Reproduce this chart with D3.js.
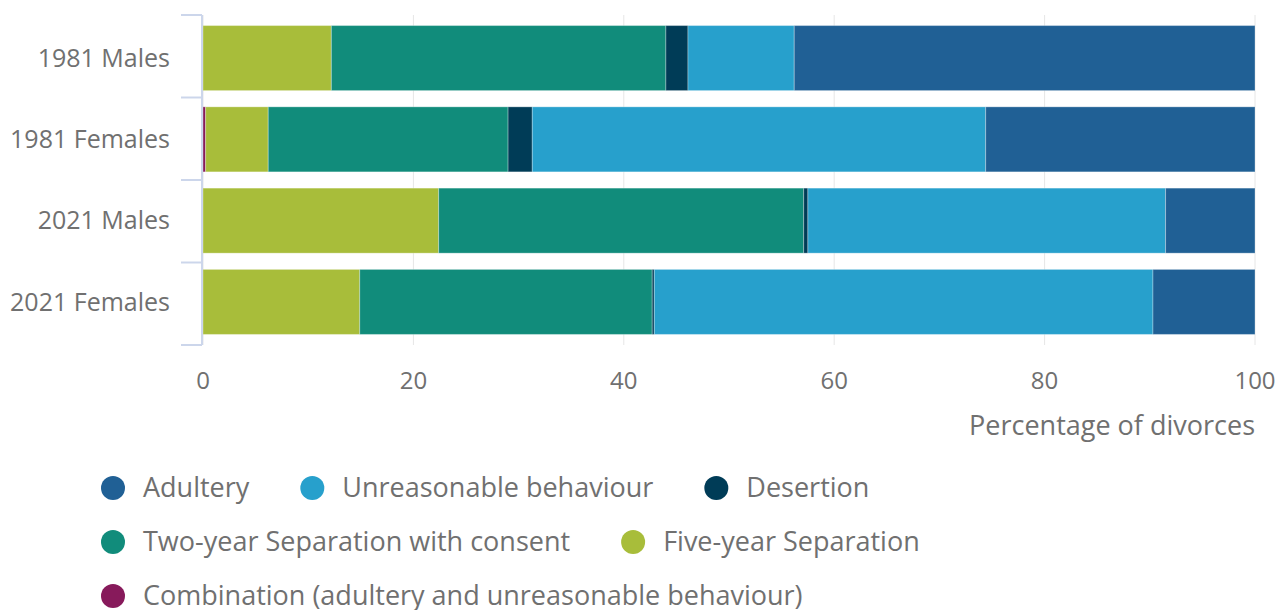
<!DOCTYPE html>
<html>
<head>
<meta charset="utf-8">
<script src="https://cdn.jsdelivr.net/npm/d3@7"></script>
<style>
  body { margin: 0; background: #fff; }
  text { font-family: "Open Sans", sans-serif; fill: #707070; }
</style>
</head>
<body>
<div id="chart"></div>
<script>
// categories and series (percent of divorces)
var categories = ["1981 Males", "1981 Females", "2021 Males", "2021 Females"];
var seriesNames = ["Adultery", "Unreasonable behaviour", "Desertion",
                   "Two-year Separation with consent", "Five-year Separation",
                   "Combination (adultery and unreasonable behaviour)"];
var adultery     = [43.8, 25.6, 8.5, 9.7];
var unreasonable = [10.1, 43.1, 34.0, 47.4];
var desertion    = [2.1, 2.3, 0.4, 0.2];
var twoYear      = [31.8, 22.8, 34.7, 27.8];
var fiveYear     = [12.2, 5.95, 22.4, 14.9];
var combination  = [0, 0.25, 0, 0];
var xTicks = [0, 20, 40, 60, 80, 100];
var colors = ["#206095", "#27a0cc", "#003c57", "#118c7b", "#a8bd3a", "#871a5b"];

var allSeries = [adultery, unreasonable, desertion, twoYear, fiveYear, combination];

var width = 1284, height = 610;
var margin = {top: 15, left: 203, right: 29};
var plotH = 330;

var svg = d3.select("#chart").append("svg")
    .attr("width", width).attr("height", height);

var x = d3.scaleLinear().domain([0, 100]).range([margin.left, width - margin.right]);
var y = d3.scaleBand().domain(categories).range([margin.top, margin.top + plotH])
    .paddingInner(0.2).paddingOuter(0.13);

//Gridlines
svg.append("g").selectAll("line").data(xTicks).enter().append("line")
    .attr("x1", function(d){ return x(d); }).attr("x2", function(d){ return x(d); })
    .attr("y1", margin.top).attr("y2", margin.top + plotH)
    .style("stroke", "#e6e6e6").style("stroke-width", 1);

//Stacked data: left to right is combination, five-year, two-year, desertion, unreasonable, adultery
var rows = categories.map(function(c, i){
    var r = {cat: c};
    seriesNames.forEach(function(s, j){ r[s] = allSeries[j][i]; });
    return r;
});
var stackOrder = seriesNames.slice().reverse();
var stacked = d3.stack().keys(stackOrder)(rows);

svg.append("g").selectAll("g").data(stacked).enter().append("g")
    .style("fill", function(d){ return colors[seriesNames.indexOf(d.key)]; })
    .selectAll("rect").data(function(d){ return d; }).enter().append("rect")
    .attr("x", function(d){ return x(d[0]); })
    .attr("width", function(d){ return Math.max(0, x(d[1]) - x(d[0])); })
    .attr("y", function(d){ return y(d.data.cat); })
    .attr("height", y.bandwidth())
    .style("stroke", "#ffffff").style("stroke-opacity", 0.3).style("stroke-width", 1);

//Y axis line and ticks at category boundaries
var yAxis = svg.append("g");
yAxis.append("line")
    .attr("x1", margin.left - 1).attr("x2", margin.left - 1)
    .attr("y1", margin.top).attr("y2", margin.top + plotH)
    .style("stroke", "#ccd6eb").style("stroke-width", 2);
var bounds = d3.range(categories.length + 1).map(function(i){
    return margin.top + i * plotH / categories.length;
});
yAxis.selectAll(".tk").data(bounds).enter().append("line")
    .attr("x1", 181).attr("x2", margin.left - 1)
    .attr("y1", function(d){ return d; }).attr("y2", function(d){ return d; })
    .style("stroke", "#ccd6eb").style("stroke-width", 2);
yAxis.selectAll("text").data(categories).enter().append("text")
    .attr("x", 170).attr("y", function(d){ return y(d) + y.bandwidth() / 2; })
    .attr("dy", "0.35em").attr("text-anchor", "end")
    .style("font-size", "25px").text(function(d){ return d; });

//X axis labels
svg.append("g").selectAll("text").data(xTicks).enter().append("text")
    .attr("x", function(d){ return x(d); }).attr("y", 389)
    .attr("text-anchor", "middle").style("font-size", "24px")
    .text(function(d){ return d; });
svg.append("text").attr("x", x(100)).attr("y", 435)
    .attr("text-anchor", "end").style("font-size", "27px")
    .text("Percentage of divorces");

//Legend
var legend = svg.append("g");
var lx = 101, ly = 488, maxW = 1200;
seriesNames.forEach(function(s, i){
    var g = legend.append("g");
    g.append("circle").attr("r", 12).attr("cx", 12).attr("cy", 0).style("fill", colors[i]);
    var t = g.append("text").attr("x", 42).attr("y", 0).attr("dy", "0.35em")
        .style("font-size", "27px").text(s);
    var w = 42 + t.node().getComputedTextLength();
    if (lx + w > maxW && lx > 101) { lx = 101; ly += 54; }
    g.attr("transform", "translate(" + lx + "," + ly + ")");
    lx += w + 51;
});
</script>
</body>
</html>
